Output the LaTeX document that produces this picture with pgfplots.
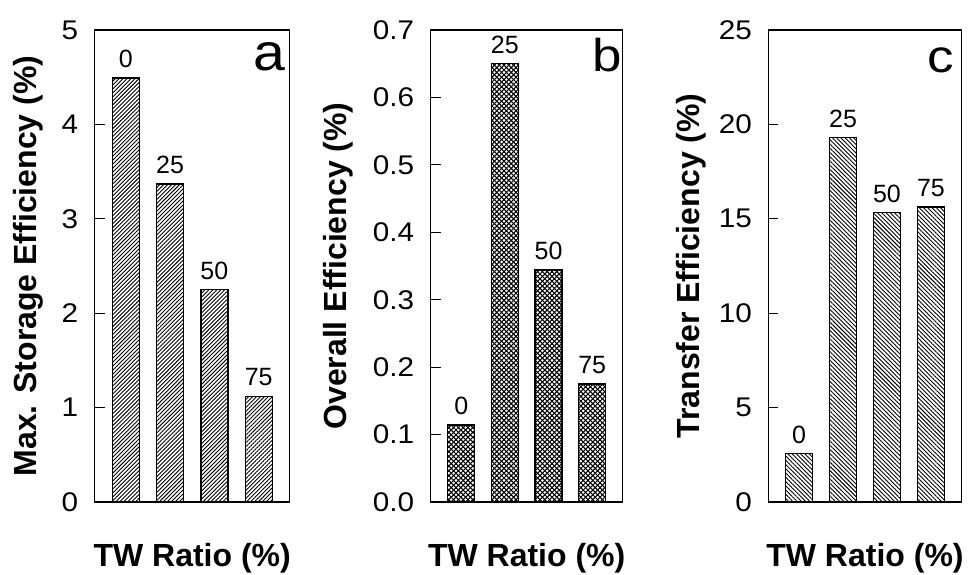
\documentclass[border=0pt]{standalone}
\usepackage{fontspec}
\setmainfont{Liberation Sans}
\usepackage{pgfplots}
\pgfplotsset{compat=1.18}
\usetikzlibrary{patterns,patterns.meta}

% diagonal crosshatch (dark grid with white holes)
\pgfdeclarepatternformonly{diamonds}{\pgfqpoint{-0.5pt}{-0.5pt}}{\pgfqpoint{2.9pt}{2.9pt}}{\pgfqpoint{2.4pt}{2.4pt}}{
  \pgfsetlinewidth{0.5pt}
  \pgfpathmoveto{\pgfqpoint{-0.1pt}{-0.1pt}}\pgfpathlineto{\pgfqpoint{2.5pt}{2.5pt}}
  \pgfpathmoveto{\pgfqpoint{-0.1pt}{2.5pt}}\pgfpathlineto{\pgfqpoint{2.5pt}{-0.1pt}}
  \pgfusepath{stroke}}

\tikzset{letter/.style={anchor=base east, inner sep=0pt}}

\pgfplotsset{
  panel/.style={
    scale only axis, height=236pt,
    ymin=0, xmin=0.3, xmax=4.7,
    ybar, bar width=13.5pt,
    axis line style={line width=0.6pt},
    xtick=\empty, ytick pos=left, tick align=inside,
    major tick length=5pt,
    every tick/.style={black, line width=0.5pt},
    /pgf/number format/assume math mode=true,
    yticklabel style={font=\fontsize{13.5}{13.5}\selectfont, inner sep=0pt, xshift=-8pt, xscale=1.1},
    xlabel={TW Ratio (\%)},
    xlabel style={font=\fontsize{16}{16}\selectfont\bfseries,
      at={(axis description cs:0.5,0)}, anchor=base, yshift=-32.35pt},
    ylabel style={font=\fontsize{16}{16}\selectfont\bfseries, anchor=base},
    point meta=explicit symbolic,
    nodes near coords,
    nodes near coords style={font=\fontsize{12.5}{12.5}\selectfont, anchor=south,
      inner sep=0pt, yshift=4.7pt, text=black},
    every axis plot/.append style={draw=black, line width=0.65pt},
  },
}

\begin{document}
\begin{tikzpicture}
\useasboundingbox (0,0) rectangle (484.5pt,287pt);

% a
\begin{axis}[panel, at={(47.35pt,36pt)}, anchor=south west, width=97.5pt,
  ymax=5, ytick={0,1,2,3,4,5},
  ylabel={Max. Storage Efficiency (\%)},
  ylabel style={at={(axis description cs:-0.296,0.5)}}]
\addplot[pattern={Lines[angle=45,distance=1.4pt,line width=0.45pt]}]
  coordinates {(1,4.49)[0] (2,3.37)[25] (3,2.25)[50] (4,1.12)[75]};
\node[letter, font=\fontsize{26}{26}\selectfont, xscale=1.1]
  at ([xshift=-2pt,yshift=-20.5pt]rel axis cs:1,1) {a};
\end{axis}

% b
\begin{axis}[panel, at={(215.35pt,36pt)}, anchor=south west, width=96pt,
  ymax=0.7, ytick={0,0.1,0.2,0.3,0.4,0.5,0.6,0.7},
  yticklabel style={/pgf/number format/.cd, fixed, fixed zerofill, precision=1, /tikz/.cd},
  ylabel={Overall Efficiency (\%)},
  ylabel style={at={(axis description cs:-0.436,0.5)}}]
\addplot[pattern=diamonds]
  coordinates {(1,0.114)[0] (2,0.65)[25] (3,0.344)[50] (4,0.175)[75]};
\node[letter, font=\fontsize{23}{23}\selectfont, xscale=1.15]
  at ([xshift=-0.2pt,yshift=-20.8pt]rel axis cs:1,1) {b};
\end{axis}

% c
\begin{axis}[panel, at={(384.15pt,36pt)}, anchor=south west, width=96.7pt,
  ymax=25, ytick={0,5,10,15,20,25},
  ylabel={Transfer Efficiency (\%)},
  ylabel style={at={(axis description cs:-0.358,0.5)}}]
\addplot[pattern={Lines[angle=-45,distance=1.5pt,line width=0.45pt]}]
  coordinates {(1,2.56)[0] (2,19.3)[25] (3,15.33)[50] (4,15.63)[75]};
\node[letter, font=\fontsize{23}{23}\selectfont, xscale=1.15]
  at ([xshift=-3.7pt,yshift=-21.5pt]rel axis cs:1,1) {c};
\end{axis}
\end{tikzpicture}
\end{document}
